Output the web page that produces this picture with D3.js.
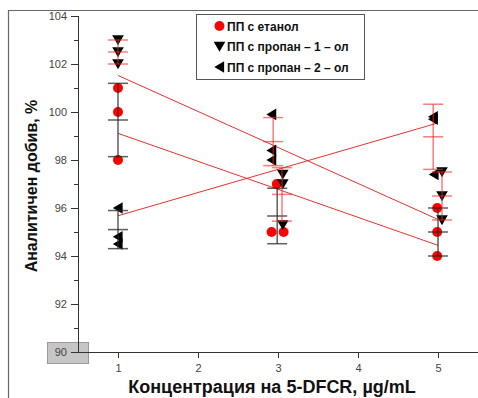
<!DOCTYPE html>
<html>
<head>
<meta charset="utf-8">
<script src="https://cdn.jsdelivr.net/npm/d3@7"></script>
<style>
  html, body { margin: 0; padding: 0; background: #fff; }
  svg { display: block; }
  text { font-family: "Liberation Sans", Arial, sans-serif; }
</style>
</head>
<body>
<svg id="chart" width="478" height="398"></svg>
<script>
// Concentrations of 5-DFCR (µg/mL)
const concentrations = [1, 3, 5];

// Recovery (%) for each replicate, grouped by concentration
const ethanolValues  = [[101, 100, 98], [97, 95, 95], [96, 95, 94]];
const propan1Values  = [[103, 102.5, 102], [97.4, 97.0, 95.3], [97.5, 96.5, 95.5]];
const propan2Values  = [[96, 94.8, 94.5], [99.9, 98.4, 98.0], [99.8, 99.7, 97.4]];

// Horizontal placement of each replicate (small offsets keep overlapping markers apart)
const ethanolX = [[1, 1, 1], [2.985, 2.92, 3.07], [4.99, 4.99, 4.99]];
const propan1X = [[1, 1, 1], [3.06, 3.06, 3.06], [5.05, 5.05, 5.05]];
const propan2X = [[1, 1, 1], [2.92, 2.92, 2.92], [4.94, 4.94, 4.95]];

// Where each mean ± SD bar sits
const ethanolBarX = [1, 2.99, 5.0];
const propan1BarX = [1, 3.05, 5.05];
const propan2BarX = [1, 2.94, 4.94];

const legendLabels = ["ПП с етанол", "ПП с пропан – 1 – ол", "ПП с пропан – 2 – ол"];
const xTicks = [1, 2, 3, 4, 5];
const yTicks = [90, 92, 94, 96, 98, 100, 102, 104];
const yMinorTicks = [91, 93, 95, 97, 99, 101, 103];

const BLACK_BAR = "rgba(40,40,40,0.75)";
const RED_BAR = "rgba(235,40,40,0.6)";

const series = [
  { name: legendLabels[0], values: ethanolValues, xs: ethanolX, barX: ethanolBarX,
    shape: "circle", fill: "#ff0000", barColors: [BLACK_BAR, BLACK_BAR, BLACK_BAR] },
  { name: legendLabels[1], values: propan1Values, xs: propan1X, barX: propan1BarX,
    shape: "down", fill: "#000", barColors: [RED_BAR, RED_BAR, RED_BAR] },
  { name: legendLabels[2], values: propan2Values, xs: propan2X, barX: propan2BarX,
    shape: "left", fill: "#000", barColors: [BLACK_BAR, RED_BAR, RED_BAR] }
];

const svg = d3.select("#chart");

const x = d3.scaleLinear().domain([0.5, 5.5]).range([78, 478]);
const y = d3.scaleLinear().domain([90, 104]).range([352, 16]);

// Outer frame
svg.append("path")
  .attr("d", "M8.5,398 L8.5,10.5 L478,10.5")
  .attr("fill", "none").attr("stroke", "#666").attr("stroke-width", 1.2);

// Marker shapes
function markerPath(shape, s) {
  if (shape === "down") {
    return `M${-s},${-s * 0.8} L${s},${-s * 0.8} L0,${s * 0.9} Z`;
  }
  if (shape === "left") {
    return `M${-s * 0.9},0 L${s * 0.8},${-s} L${s * 0.8},${s} Z`;
  }
  return null;
}
function drawMarker(g, shape, fill, cx, cy) {
  if (shape === "circle") {
    g.append("circle").attr("cx", cx).attr("cy", cy).attr("r", 5).attr("fill", fill);
  } else {
    g.append("path").attr("transform", `translate(${cx},${cy})`)
      .attr("d", markerPath(shape, 5.8)).attr("fill", fill);
  }
}

// Gray highlight behind the origin label
svg.append("rect")
  .attr("x", 47.5).attr("y", 342.5).attr("width", 41).attr("height", 21)
  .attr("fill", "#c6c6c6").attr("stroke", "#9a9a9a");

// Y axis
const yAxis = svg.append("g").attr("transform", `translate(${x.range()[0]},0)`)
  .call(d3.axisLeft(y).tickValues(yTicks).tickFormat(d3.format("d")).tickSize(7).tickPadding(4));
yAxis.select(".domain").attr("d", `M0.5,${y(104)}V${y(90) + 0.5}`);
yAxis.selectAll("line").attr("stroke", "#333");
yAxis.select(".domain").attr("stroke", "#333");
yAxis.selectAll("text").attr("font-size", 11).attr("fill", "#444")
  .style("font-family", "'Liberation Sans', Arial, sans-serif");
yAxis.selectAll(".minor").data(yMinorTicks).enter().append("line")
  .attr("class", "minor")
  .attr("x1", -4).attr("x2", 0)
  .attr("y1", d => y(d) + 0.5).attr("y2", d => y(d) + 0.5)
  .attr("stroke", "#333");

// X axis
const xAxis = svg.append("g").attr("transform", `translate(0,${y.range()[0]})`)
  .call(d3.axisBottom(x).tickValues(xTicks).tickFormat(d3.format("d")).tickSize(6).tickPadding(6));
xAxis.select(".domain").attr("d", `M${x(0.5)},0.5H${x(5.5)}`).attr("stroke", "#333");
xAxis.selectAll("line").attr("stroke", "#333");
xAxis.selectAll("text").attr("font-size", 11).attr("fill", "#444")
  .style("font-family", "'Liberation Sans', Arial, sans-serif");

// Axis titles
svg.append("text")
  .attr("x", 272).attr("y", 393)
  .attr("text-anchor", "middle")
  .attr("font-size", 18).attr("font-weight", "bold").attr("fill", "#111")
  .text("Концентрация на 5-DFCR, µg/mL");

svg.append("text")
  .attr("transform", `translate(37,186) rotate(-90)`)
  .attr("text-anchor", "middle")
  .attr("font-size", 16).attr("font-weight", "bold").attr("fill", "#111")
  .text("Аналитичен добив, %");

const plot = svg.append("g");

// Linear fit through the group means of each series
function linearFit(xs, ys) {
  const mx = d3.mean(xs), my = d3.mean(ys);
  const b = d3.sum(xs, (v, i) => (v - mx) * (ys[i] - my)) / d3.sum(xs, v => (v - mx) ** 2);
  return v => my + b * (v - mx);
}

series.forEach(s => {
  s.means = s.values.map(v => d3.mean(v));
  s.sds = s.values.map(v => d3.deviation(v));
});

// Fit lines
const fitLayer = plot.append("g");
series.forEach(s => {
  const f = linearFit(concentrations, s.means);
  const x0 = concentrations[0], x1 = concentrations[concentrations.length - 1];
  fitLayer.append("line")
    .attr("x1", x(x0)).attr("y1", y(f(x0)))
    .attr("x2", x(x1)).attr("y2", y(f(x1)))
    .attr("stroke", "#e83030").attr("stroke-width", 1);
});

// Replicate markers
const markerLayer = plot.append("g");
series.forEach(s => {
  s.values.forEach((grp, gi) => {
    grp.forEach((v, i) => drawMarker(markerLayer, s.shape, s.fill, x(s.xs[gi][i]), y(v)));
  });
});

// Mean ± SD bars, with a tick at the mean
const barLayer = plot.append("g");
series.forEach(s => {
  s.means.forEach((m, gi) => {
    const cx = x(s.barX[gi]);
    const lo = m - s.sds[gi], hi = m + s.sds[gi];
    const col = s.barColors[gi];
    barLayer.append("line")
      .attr("x1", cx).attr("x2", cx).attr("y1", y(hi)).attr("y2", y(lo))
      .attr("stroke", col).attr("stroke-width", 1.5);
    [hi, m, lo].forEach(v => {
      barLayer.append("line")
        .attr("x1", cx - 10).attr("x2", cx + 10)
        .attr("y1", y(v)).attr("y2", y(v))
        .attr("stroke", col).attr("stroke-width", 1.5);
    });
  });
});

// Legend
const legend = svg.append("g");
legend.append("rect")
  .attr("x", 196.5).attr("y", 14.5).attr("width", 168).attr("height", 65)
  .attr("fill", "#fff").attr("stroke", "#555");
series.forEach((s, i) => {
  const ly = 26 + i * 20.5;
  drawMarker(legend, s.shape, s.fill, 219.5, ly);
  legend.append("text")
    .attr("x", 227).attr("y", ly + 4.5)
    .attr("font-size", 12).attr("font-weight", "bold").attr("fill", "#111")
    .text(s.name);
});
</script>
</body>
</html>
